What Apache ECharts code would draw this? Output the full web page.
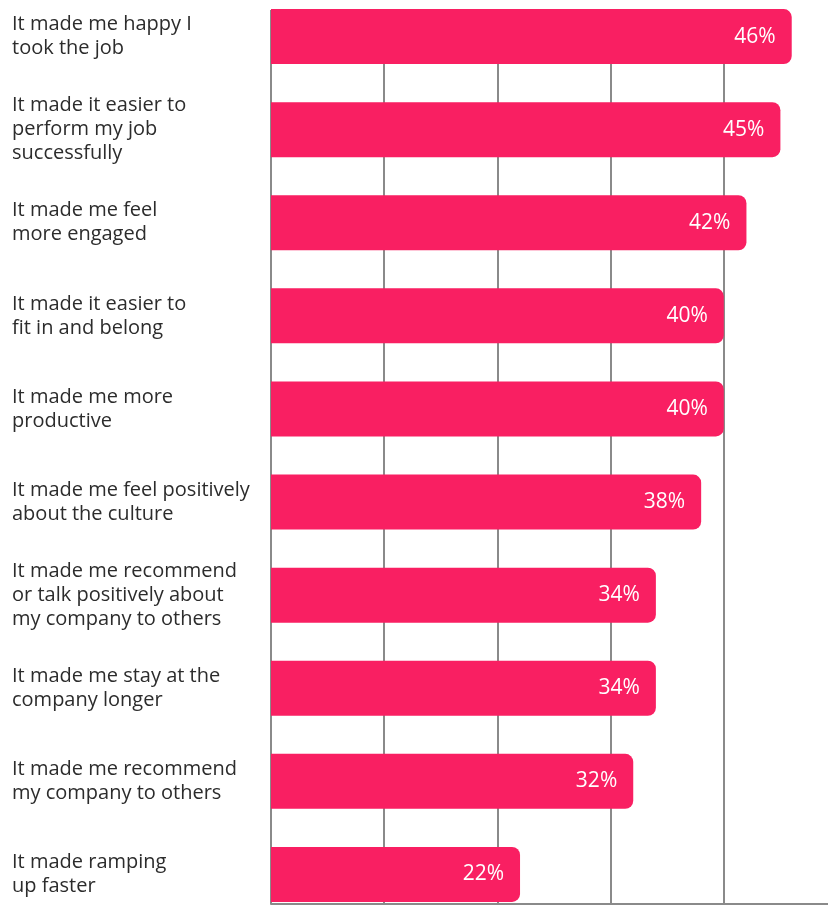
<!DOCTYPE html>
<html>
<head>
<meta charset="utf-8">
<script src="https://cdn.jsdelivr.net/npm/echarts@6/dist/echarts.min.js"></script>
<style>
  html, body { margin: 0; padding: 0; background: #ffffff; }
  #chart { width: 828px; height: 905px; }
</style>
</head>
<body>
<div id="chart"></div>
<script>
// Survey statements, top to bottom
const statements = [
  'It made me happy I\ntook the job',
  'It made it easier to\nperform my job\nsuccessfully',
  'It made me feel\nmore engaged',
  'It made it easier to\nfit in and belong',
  'It made me more\nproductive',
  'It made me feel positively\nabout the culture',
  'It made me recommend\nor talk positively about\nmy company to others',
  'It made me stay at the\ncompany longer',
  'It made me recommend\nmy company to others',
  'It made ramping\nup faster'
];

// Share of respondents (%)
const shares = [46, 45, 42, 40, 40, 38, 34, 34, 32, 22];

// Value axis ticks (%)
const axisMin = 0;
const axisMax = 50;
const axisStep = 10;

const barColor = '#F91F62';
const gridGray = '#8a8a8a';
const font = '"Open Sans", "Noto Sans", sans-serif';

const chart = echarts.init(document.getElementById('chart'));

chart.setOption({
  backgroundColor: '#ffffff',
  animation: false,
  grid: [
    // frame grid: vertical guide lines and the baseline
    { left: 271, width: 566, top: 10, height: 894, outerBoundsMode: 'none' },
    // bar grid
    { left: 271, width: 566, top: -10, height: 931, outerBoundsMode: 'none' }
  ],
  xAxis: [
    {
      gridIndex: 0,
      type: 'value',
      min: axisMin,
      max: axisMax,
      interval: axisStep,
      axisLine: { show: true, lineStyle: { color: gridGray, width: 2 } },
      axisTick: { show: false },
      axisLabel: { show: false },
      splitLine: { show: true, showMinLine: true, showMaxLine: false, lineStyle: { color: gridGray, width: 2 } }
    },
    {
      gridIndex: 1,
      type: 'value',
      min: axisMin,
      max: axisMax,
      interval: axisStep,
      axisLine: { show: false },
      axisTick: { show: false },
      axisLabel: { show: false },
      splitLine: { show: false }
    }
  ],
  yAxis: [
    {
      gridIndex: 0,
      type: 'category',
      data: statements,
      inverse: true,
      axisLine: { show: false },
      axisTick: { show: false },
      axisLabel: { show: false },
      splitLine: { show: false }
    },
    {
      gridIndex: 1,
      type: 'category',
      data: statements,
      inverse: true,
      axisLine: { show: false },
      axisTick: { show: false },
      splitLine: { show: false },
      axisLabel: {
        show: true,
        interval: 0,
        align: 'left',
        margin: 259,
        color: '#2c2c2c',
        fontFamily: font,
        fontSize: 20,
        fontWeight: 'normal',
        lineHeight: 24
      }
    }
  ],
  series: [
    {
      type: 'bar',
      xAxisIndex: 1,
      yAxisIndex: 1,
      data: shares,
      barWidth: 55,
      itemStyle: { color: barColor, borderRadius: [0, 8, 8, 0] },
      label: {
        show: true,
        position: 'insideRight',
        distance: 16,
        formatter: '{c}%',
        color: '#ffffff',
        fontFamily: font,
        fontSize: 21,
        fontWeight: 'normal'
      }
    }
  ]
});
</script>
</body>
</html>
